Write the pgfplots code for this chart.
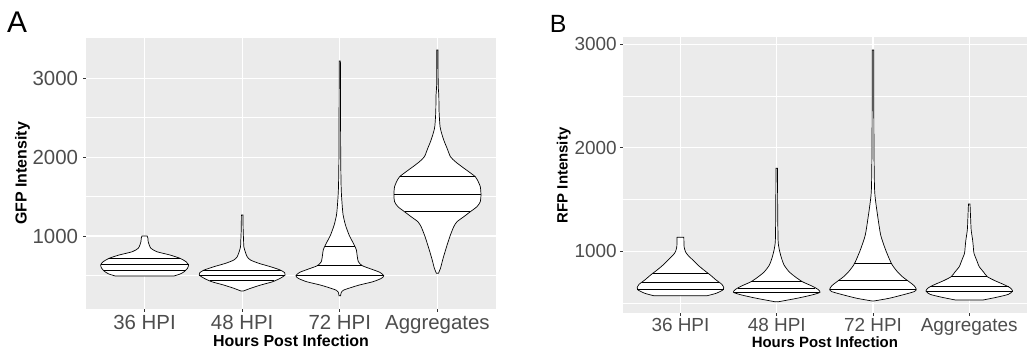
\documentclass[border=0pt]{standalone}
\usepackage{fontspec}
\setmainfont{Liberation Sans}
\usepackage{pgfplots}
\pgfplotsset{compat=1.18}
\usepackage{pgfplotstable}
\usepgfplotslibrary{fillbetween}
\definecolor{ggbg}{HTML}{EBEBEB}
\definecolor{ggtick}{HTML}{4D4D4D}
\definecolor{ggtickline}{HTML}{333333}

% violin outlines: y value, half-width (category units)
\pgfplotstableread{
y w
493 0.30
518 0.364
547 0.405
590 0.439
632 0.45
674 0.425
717 0.364
759 0.262
801 0.126
844 0.065
886 0.048
928 0.037
971 0.034
1000 0.027
}\vAa
\pgfplotstableread{
y w
302 0.01
337 0.085
379 0.19
420 0.31
464 0.39
505 0.44
535 0.435
569 0.39
611 0.29
654 0.17
696 0.085
737 0.051
801 0.031
864 0.017
949 0.014
1076 0.01
1266 0.008
}\vAb
\pgfplotstableread{
y w
243 0.008
286 0.015
315 0.04
349 0.12
379 0.20
421 0.34
463 0.425
497 0.45
540 0.41
582 0.32
624 0.23
674 0.19
759 0.177
822 0.17
873 0.153
928 0.13
1013 0.095
1139 0.058
1266 0.034
1393 0.024
1605 0.014
2027 0.009
3219 0.006
}\vAc
\pgfplotstableread{
y w
527 0.01
590 0.031
717 0.058
886 0.099
1013 0.133
1118 0.167
1181 0.20
1245 0.27
1308 0.337
1372 0.405
1435 0.439
1520 0.446
1625 0.439
1710 0.41
1752 0.388
1816 0.32
1879 0.25
1942 0.184
2006 0.133
2112 0.099
2196 0.071
2281 0.048
2386 0.027
2576 0.017
2788 0.014
2915 0.008
3359 0.006
}\vAd
\pgfplotstableread{
y w
571 0.278
594 0.37
626 0.44
648 0.45
681 0.43
723 0.37
771 0.31
819 0.243
868 0.18
916 0.128
964 0.076
996 0.052
1044 0.038
1135 0.035
}\vBa
\pgfplotstableread{
y w
513 0.02
546 0.21
578 0.365
604 0.45
633 0.427
665 0.365
706 0.267
755 0.19
803 0.128
868 0.076
948 0.045
1029 0.024
1109 0.014
1399 0.01
1802 0.008
}\vBb
\pgfplotstableread{
y w
520 0.01
546 0.167
578 0.305
610 0.427
633 0.45
668 0.427
706 0.375
755 0.305
803 0.253
868 0.20
932 0.167
1029 0.125
1157 0.08
1319 0.052
1479 0.028
1609 0.016
2027 0.01
2945 0.007
}\vBc
\pgfplotstableread{
y w
529 0.14
556 0.285
584 0.406
616 0.45
648 0.424
681 0.354
716 0.267
755 0.1875
803 0.146
851 0.104
916 0.076
981 0.049
1044 0.042
1109 0.035
1206 0.02
1302 0.015
1457 0.008
}\vBd

\newcommand{\violin}[3]{%
  \addplot[draw=none, forget plot, smooth, tension=0.4, name path=R#3] table[x expr={#2+\thisrow{w}}, y=y] {#1};
  \addplot[draw=none, forget plot, smooth, tension=0.4, name path=L#3] table[x expr={#2-\thisrow{w}}, y=y] {#1};
  \addplot[fill=white, draw=black, line width=0.7pt, forget plot] fill between[of=R#3 and L#3, reverse=true];
}
\newcommand{\qline}[2]{%
  \addplot[black, line width=0.7pt, forget plot] coordinates {#1 #2};
}

\pgfplotsset{
  ggaxis/.style={
    scale only axis,
    axis background/.style={fill=ggbg},
    axis line style={draw=none},
    xmin=0.4, xmax=4.6,
    xtick={1,2,3,4},
    xticklabels={36 HPI,48 HPI,72 HPI,Aggregates},
    ytick={1000,2000,3000},
    minor ytick={500,1500,2500},
    xmajorgrids, ymajorgrids, yminorgrids,
    major grid style={white, line width=1.1pt},
    minor grid style={white, line width=0.55pt},
    tick align=outside,
    major tick length=2.75pt, minor tick length=0pt,
    tick style={ggtickline, line width=0.8pt},
    xtick pos=bottom, ytick pos=left,
    /pgf/number format/assume math mode=true,
    /pgf/number format/1000 sep={},
    tick label style={color=ggtick},
  }
}

\begin{document}
\begin{tikzpicture}

% Panel A
\begin{axis}[ggaxis,
  at={(86bp,47bp)}, anchor=south west,
  width=410bp, height=271bp,
  ymin=75, ymax=3510,
  tick label style={font=\fontsize{20.5}{24}\selectfont},
  yticklabel style={anchor=east, inner sep=0pt, xshift=-5bp},
  xticklabel style={anchor=base, inner sep=0pt, yshift=-18.25bp},
  xlabel={Hours Post Infection},
  ylabel={GFP Intensity},
  xlabel style={at={(axis description cs:0.5,-0.139)}, anchor=base, inner sep=0pt, font=\fontsize{16}{18}\selectfont\bfseries},
  ylabel style={at={(axis description cs:-0.1451,0.5)}, anchor=base, inner sep=0pt, font=\fontsize{16}{18}\selectfont\bfseries},
]
\violin{\vAa}{1}{Aa}
\violin{\vAb}{2}{Ab}
\violin{\vAc}{3}{Ac}
\violin{\vAd}{4}{Ad}
\qline{(0.64,712)}{(1.36,712)}
\qline{(0.55,641)}{(1.45,641)}
\qline{(0.58,565)}{(1.42,565)}
\qline{(1.60,560)}{(2.40,560)}
\qline{(1.56,497)}{(2.44,497)}
\qline{(1.67,433)}{(2.33,433)}
\qline{(2.847,873)}{(3.153,873)}
\qline{(2.77,624)}{(3.23,624)}
\qline{(2.55,497)}{(3.45,497)}
\qline{(3.612,1752)}{(4.388,1752)}
\qline{(3.554,1528)}{(4.446,1528)}
\qline{(3.663,1308)}{(4.337,1308)}
\end{axis}

% Panel B
\begin{axis}[ggaxis,
  at={(622.7bp,42.7bp)}, anchor=south west,
  width=404.3bp, height=276bp,
  ymin=401, ymax=3068,
  tick label style={font=\fontsize{19}{22}\selectfont},
  yticklabel style={anchor=east, inner sep=0pt, xshift=-3bp},
  xticklabel style={anchor=base, inner sep=0pt, yshift=-15.6bp},
  xlabel={Hours Post Infection},
  ylabel={RFP Intensity},
  xlabel style={at={(axis description cs:0.5,-0.1257)}, anchor=base, inner sep=0pt, font=\fontsize{15}{17}\selectfont\bfseries},
  ylabel style={at={(axis description cs:-0.1365,0.5)}, anchor=base, inner sep=0pt, font=\fontsize{15}{17}\selectfont\bfseries},
]
\violin{\vBa}{1}{Ba}
\violin{\vBb}{2}{Bb}
\violin{\vBc}{3}{Bc}
\violin{\vBd}{4}{Bd}
\qline{(0.71,787)}{(1.29,787)}
\qline{(0.60,700)}{(1.40,700)}
\qline{(0.55,637)}{(1.45,637)}
\qline{(1.733,706)}{(2.267,706)}
\qline{(1.60,642)}{(2.40,642)}
\qline{(1.56,600)}{(2.44,600)}
\qline{(2.80,884)}{(3.20,884)}
\qline{(2.64,723)}{(3.36,723)}
\qline{(2.55,633)}{(3.45,633)}
\qline{(3.8125,755)}{(4.1875,755)}
\qline{(3.59,660)}{(4.41,660)}
\qline{(3.55,610)}{(4.45,610)}
\end{axis}

\node[anchor=base west, inner sep=0pt, font=\fontsize{30}{30}\selectfont] at (7bp,323bp) {A};
\node[anchor=base west, inner sep=0pt, font=\fontsize{25}{25}\selectfont] at (549.7bp,323.3bp) {B};

\pgfresetboundingbox
\path[use as bounding box] (0,0) rectangle (1027bp,356bp);
\end{tikzpicture}
\end{document}
